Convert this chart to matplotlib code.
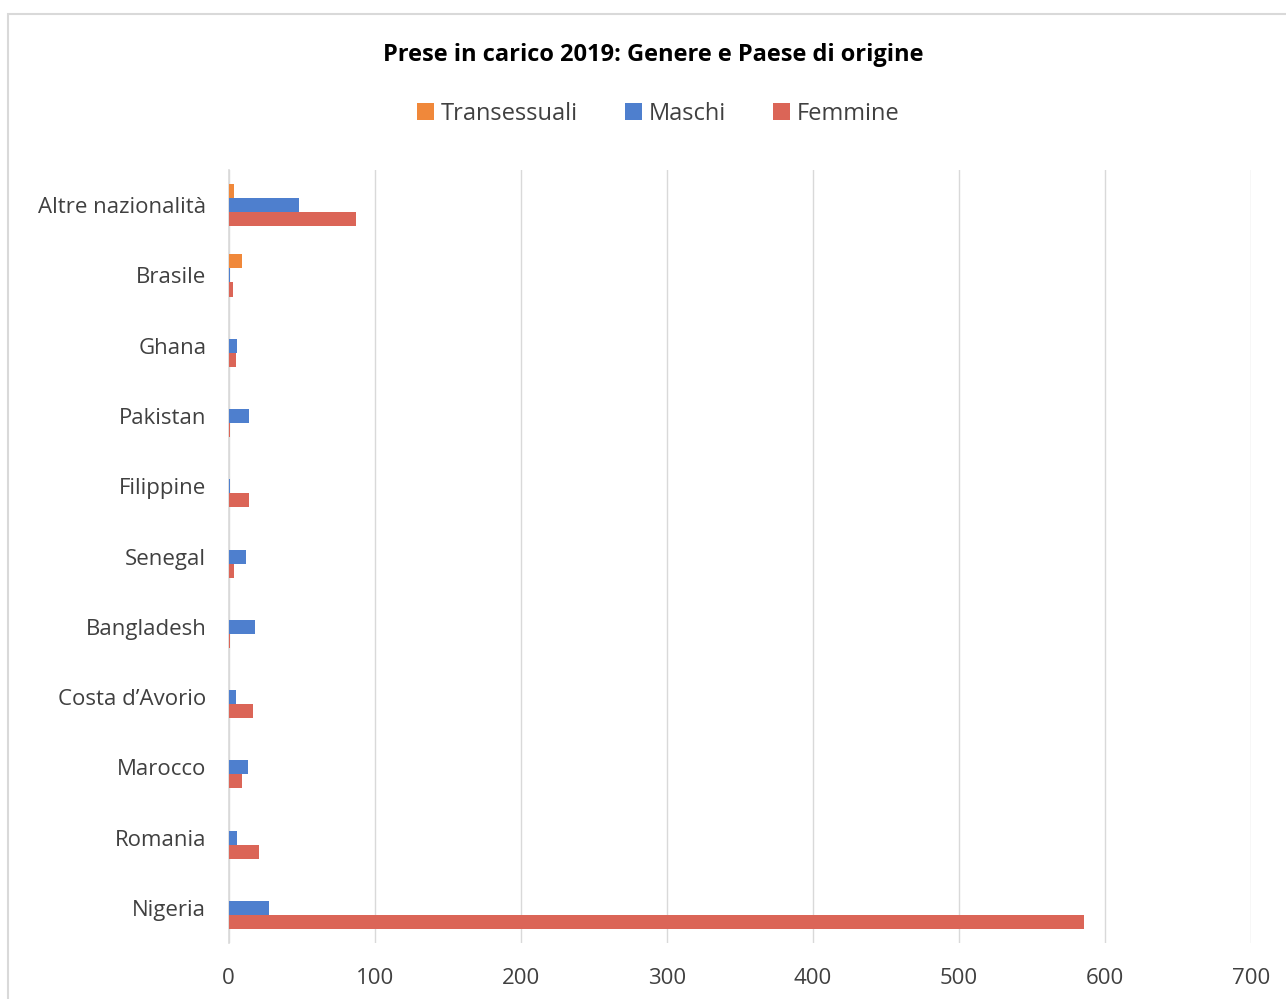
import numpy as np
import matplotlib
matplotlib.use("Agg")
import matplotlib.pyplot as plt
from matplotlib.patches import Rectangle

paesi = ["Altre nazionalità", "Brasile", "Ghana", "Pakistan", "Filippine", "Senegal",
         "Bangladesh", "Costa d\u2019Avorio", "Marocco", "Romania", "Nigeria"]
transessuali = [4, 9, 0, 0, 0, 0, 0, 0, 0, 0, 0]
maschi = [48, 1, 6, 14, 1, 12, 18, 5, 13, 6, 28]
femmine = [87, 3, 5, 1, 14, 4, 1, 17, 9, 21, 586]

plt.rcParams["font.family"] = ["Open Sans", "DejaVu Sans"]

fig = plt.figure(figsize=(12.86, 9.99), dpi=100)
ax = fig.add_axes([0.1777, 0.056, 0.7951, 0.7738])

y = np.arange(len(paesi))
h = 0.2
ax.barh(y - h, transessuali, height=h, color="#F0883A", label="Transessuali", zorder=3)
ax.barh(y, maschi, height=h, color="#4E7FCE", label="Maschi", zorder=3)
ax.barh(y + h, femmine, height=h, color="#DB6557", label="Femmine", zorder=3)

ax.set_ylim(len(paesi) - 0.5, -0.5)
ax.set_xlim(0, 700)
ax.set_xticks(range(0, 701, 100))
ax.set_yticks(y)
ax.set_yticklabels(paesi)
ax.tick_params(axis="both", length=0, labelsize=16, colors="#404040")
ax.tick_params(axis="x", pad=18)
ax.tick_params(axis="y", pad=16)
ax.grid(axis="x", color="#d9d9d9", linewidth=1, zorder=0)
ax.set_axisbelow(True)
for side in ["top", "right", "bottom"]:
    ax.spines[side].set_visible(False)
ax.spines["left"].set_color("#d9d9d9")
ax.spines["left"].set_linewidth(1.2)
ax.spines["left"].set_zorder(1)

fig.text(0.508, 0.945, "Prese in carico 2019: Genere e Paese di origine",
         ha="center", va="center", fontsize=17, fontweight="bold", color="black")

fig.legend(loc="center", bbox_to_anchor=(0.512, 0.886), ncol=3, frameon=False,
           fontsize=17, handlelength=0.7, handleheight=0.7, handletextpad=0.3,
           columnspacing=2.0, labelcolor="#404040")

fig.patches.append(Rectangle((8 / 1286, -0.01), 1.1, 1 - 14 / 999 + 0.01,
                             transform=fig.transFigure, fill=False,
                             edgecolor="#d9d9d9", linewidth=1.5))

fig.savefig("out.png", dpi=100, facecolor="white")
